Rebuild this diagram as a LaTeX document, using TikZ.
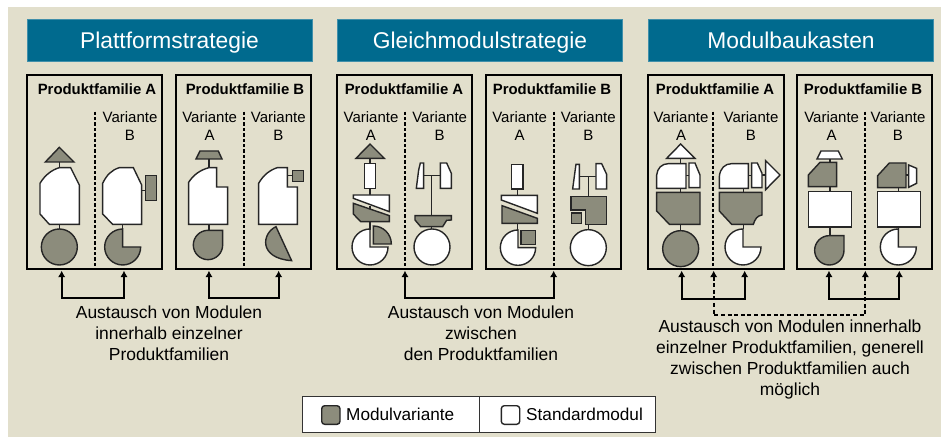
\documentclass[tikz,border=0pt]{standalone}
\usepackage{fontspec}
\setmainfont{Liberation Sans}
\usetikzlibrary{positioning}
\usetikzlibrary{arrows.meta}
\definecolor{paper}{RGB}{226,223,204}
\definecolor{teal}{RGB}{0,106,142}
\definecolor{modgray}{RGB}{140,140,124}
\tikzset{
    crop/.style = {shift = {(#1,70)}, x = 0.3333pt, y = -0.3333pt},
    head/.style = {fill = teal, draw = teal!75!white, line width = 0.5pt, text = white, minimum width = 285pt, minimum height = 42.5pt, inner sep = 0pt, text height = 16.5pt, text depth = 0pt, font = \fontsize{22.8}{26}\selectfont},
    panel/.style = {draw = black, line width = 2pt, minimum width = 135.5pt, minimum height = 194.5pt, inner sep = 0pt},
    famtitle/.style = {font = \fontsize{14.9}{17}\selectfont\bfseries},
    varlabel/.style = {font = \fontsize{15}{18}\selectfont, align = center},
    note/.style = {font = \fontsize{17.45}{21}\selectfont, align = center},
    legendbox/.style = {draw = black!80, line width = 1.4pt, fill = white, minimum height = 36pt, inner sep = 0pt},
    gm/.style = {draw = black!85, line width = 1.4pt, fill = modgray},
    wm/.style = {draw = black!85, line width = 1.4pt, fill = white},
    stub/.style = {draw = black!85, line width = 1.5pt},
    split/.style = {draw = black, line width = 2pt, dash pattern = on 3.4pt off 2pt},
    swap/.style = {draw = black, line width = 2pt, {Latex[length=6.5pt,width=7.5pt]}-{Latex[length=6.5pt,width=7.5pt]}},
    swapdash/.style = {swap, dash pattern = on 4pt off 2.6pt}
}
% circle with the upper right quarter cut away
\newcommand*{\pacman}[4]{%
    \draw[#1] (#2,#3) -- ++(0,-#4) arc (-90:-360:#4) -- cycle;
}
% circle with a square corner
\newcommand*{\pear}[4]{%
    \draw[#1] (#2,#3-#4) -- ++(#4,0) -- ++(0,#4) arc (0:270:#4) -- cycle;
}
\begin{document}
\begin{tikzpicture}[x = 1pt, y = -1pt]
    \useasboundingbox (0,0) rectangle (941,437);
    \fill[paper] (8,7) rectangle (941,437);

    \node (H1) at (169.5,40) [head] {Plattformstrategie};
    \node (H2) at (480,40) [head] {Gleichmodulstrategie};
    \node (H3) at (791,40) [head] {Modulbaukasten};

    \node (P1) at (94.7,172) [panel] {};
    \node (P2) at (243.7,172) [panel] {};
    \node (P3) at (404.7,172) [panel] {};
    \node (P4) at (553.4,172) [panel] {};
    \node (P5) at (715.9,172) [panel] {};
    \node (P6) at (864.7,172) [panel] {};

    \node at (97,89) [famtitle] {Produktfamilie A};
    \node at (245,89) [famtitle] {Produktfamilie B};
    \node at (404,89) [famtitle] {Produktfamilie A};
    \node at (552,89) [famtitle] {Produktfamilie B};
    \node at (715,89) [famtitle] {Produktfamilie A};
    \node at (863,89) [famtitle] {Produktfamilie B};

    \begin{scope}[crop = 20]
        \node at (330,168) [varlabel] {Variante\\B};
        \node at (569,168) [varlabel] {Variante\\A};
        \node at (775,168) [varlabel] {Variante\\B};
        \draw[split] (225,125) -- (225,596);
        \draw[split] (672,125) -- (672,596);

        % family A, variant A
        \draw[stub] (118,276) -- (118,293) (118,463) -- (118,480);
        \draw[gm] (76,276) -- (118,232) -- (162,276) -- cycle;
        \draw[wm] (60,340) .. controls (75,315) and (95,300) .. (118,293) -- (152,293) -- (178,345) -- (178,463) -- (88,463) -- (60,432) -- cycle;
        \draw[gm] (118,531) circle (54);

        % family A, variant B
        \draw[stub] (365,362) -- (377,362) (308,463) -- (308,478);
        \draw[wm] (248,340) .. controls (260,315) and (275,300) .. (298,293) -- (340,293) -- (365,345) -- (365,463) -- (278,463) -- (248,432) -- cycle;
        \draw[gm] (377,316) rectangle (409,391);
        \pacman{gm}{308}{531}{54}

        % family B, variant A
        \draw[stub] (567,267) -- (567,293) (567,463) -- (567,481);
        \draw[gm] (528,267) -- (540,243) -- (595,243) -- (606,267) -- cycle;
        \draw[wm] (506,337) .. controls (520,315) and (540,300) .. (567,293) -- (590,293) -- (590,351) -- (623,351) -- (623,463) -- (506,463) -- cycle;
        \pear{gm}{564}{525}{44}

        % family B, variant B
        \draw[stub] (802,317) -- (817,317);
        \draw[wm] (716,340) .. controls (730,315) and (750,300) .. (772,293) -- (802,293) -- (802,351) -- (832,351) -- (832,463) -- (716,463) -- cycle;
        \draw[gm] (817,302) rectangle (850,334);
        \draw[gm] (768,470) .. controls (725,490) and (715,565) .. (815,572) -- cycle;

        \coordinate (a1) at (125,602);
        \coordinate (a2) at (312,602);
        \coordinate (b1) at (567,602);
        \coordinate (b2) at (776,602);
        \draw[swap] (a1) -- (125,683) -- (312,683) -- (a2);
        \draw[swap] (b1) -- (567,683) -- (776,683) -- (b2);
    \end{scope}

    \begin{scope}[crop = 330]
        \node at (123,168) [varlabel] {Variante\\A};
        \node at (329,168) [varlabel] {Variante\\B};
        \node at (569,168) [varlabel] {Variante\\A};
        \node at (775,168) [varlabel] {Variante\\B};
        \draw[split] (225,125) -- (225,596);
        \draw[split] (671,125) -- (671,596);

        % family A, variant A
        \draw[stub] (120,265) -- (120,281) (120,355) -- (120,375) (120,408) -- (120,420) (120,455) -- (120,480);
        \draw[gm] (78,265) -- (120,222) -- (163,265) -- cycle;
        \draw[wm] (103,281) rectangle (137,355);
        \draw[wm] (70,375) -- (178,375) -- (178,425) -- (70,385) -- cycle;
        \draw[gm] (70,400) -- (178,437) -- (178,455) -- (92,455) -- (70,432) -- cycle;
        \pacman{wm}{120}{531}{54}
        \draw[gm] (130,522) -- (130,468) arc (-90:0:54) -- cycle;

        % family A, variant B
        \draw[stub] (281,317) -- (331,317) (305,317) -- (305,437) (305,470) -- (305,478);
        \draw[wm] (259,355) -- (266,300) -- (271,279) -- (281,279) -- (281,355) -- cycle;
        \draw[wm] (331,279) -- (350,279) -- (364,310) -- (364,355) -- (331,355) -- cycle;
        \draw[gm] (255,437) -- (364,437) -- (364,450) -- (350,451) -- (338,470) -- (272,470) -- (255,450) -- cycle;
        \draw[wm] (306,531) circle (54);

        % family B, variant A
        \draw[stub] (562,357) -- (562,376) (562,460) -- (562,481);
        \draw[wm] (545,283) rectangle (579,357);
        \draw[wm] (514,376) -- (622,376) -- (622,430) -- (514,390) -- cycle;
        \draw[gm] (516,407) -- (622,445) -- (622,460) -- (516,460) -- cycle;
        \pacman{wm}{564}{533}{53}
        \draw[gm] (573,481) rectangle (616,523);

        % family B, variant B
        \draw[stub] (748,319) -- (798,319) (775,319) -- (775,379) (775,464) -- (775,481);
        \draw[wm] (728,357) -- (735,305) -- (738,283) -- (748,283) -- (748,357) -- cycle;
        \draw[wm] (798,281) -- (815,281) -- (830,313) -- (830,357) -- (798,357) -- cycle;
        \draw[gm] (723,379) -- (830,379) -- (830,464) -- (766,464) -- (766,420) -- (723,420) -- cycle;
        \draw[gm] (725,429) rectangle (755,461);
        \draw[wm] (775,533) circle (54);

        \coordinate (c1) at (225,602);
        \coordinate (c2) at (671,602);
        \draw[swap] (c1) -- (225,683) -- (671,683) -- (c2);
    \end{scope}

    \begin{scope}[crop = 640]
        \node at (123,168) [varlabel] {Variante\\A};
        \node at (333,168) [varlabel] {Variante\\B};
        \node at (575,168) [varlabel] {Variante\\A};
        \node at (774,168) [varlabel] {Variante\\B};
        \draw[split] (218,125) -- (218,596);
        \draw[split] (675,125) -- (675,596);

        % family A, variant A
        \draw[stub] (122,265) -- (122,281) (138,317) -- (147,317) (122,355) -- (122,367) (122,463) -- (122,482);
        \draw[wm] (80,265) -- (122,222) -- (165,265) -- cycle;
        \draw[wm] (50,355) -- (50,315) .. controls (52,295) and (65,281) .. (85,281) -- (138,281) -- (138,355) -- cycle;
        \draw[wm] (147,279) -- (165,279) -- (180,315) -- (180,353) -- (147,353) -- cycle;
        \draw[gm] (50,367) -- (180,367) -- (180,463) -- (88,463) -- (50,423) -- cycle;
        \draw[gm] (122,536) circle (54);

        % family A, variant B
        \draw[stub] (325,317) -- (335,317) (366,315) -- (377,315) (310,355) -- (310,367) (310,463) -- (310,478);
        \draw[wm] (238,355) -- (238,320) .. controls (240,295) and (255,281) .. (275,281) -- (325,281) -- (325,355) -- cycle;
        \draw[wm] (335,279) -- (352,279) -- (366,310) -- (366,353) -- (335,353) -- cycle;
        \draw[wm] (377,272) -- (420,315) -- (377,359) -- cycle;
        \draw[gm] (238,367) -- (366,367) -- (366,435) .. controls (352,437) and (345,447) .. (340,463) -- (275,463) -- (238,423) -- cycle;
        \pacman{wm}{309}{531}{54}

        % family B, variant A
        \draw[stub] (570,267) -- (570,277) (570,350) -- (570,364) (570,471) -- (570,498);
        \draw[wm] (531,267) -- (543,243) -- (595,243) -- (607,267) -- cycle;
        \draw[gm] (505,315) -- (540,277) -- (590,277) -- (590,350) -- (505,350) -- cycle;
        \draw[wm] (505,364) rectangle (635,471);
        \pear{gm}{568}{541}{44}

        % family B, variant B
        \draw[stub] (798,315) -- (806,315) (775,353) -- (775,364) (775,471) -- (775,478);
        \draw[gm] (713,317) -- (748,279) -- (798,279) -- (798,353) -- (713,353) -- cycle;
        \draw[wm] (806,285) -- (830,295) -- (830,340) -- (806,352) -- cycle;
        \draw[wm] (713,364) rectangle (841,471);
        \pacman{wm}{775}{531}{54}

        \coordinate (d1) at (125,602);
        \coordinate (d2) at (314,602);
        \coordinate (e1) at (567,602);
        \coordinate (e2) at (778,602);
        \coordinate (f1) at (221,602);
        \coordinate (f2) at (676,602);
        \draw[swap] (d1) -- (125,686) -- (314,686) -- (d2);
        \draw[swap] (e1) -- (567,686) -- (778,686) -- (e2);
        \draw[swapdash] (f1) -- (221,736) -- (676,736) -- (f2);
    \end{scope}

    \node (N1) at (169,333) [note] {Austausch von Modulen\\innerhalb einzelner\\Produktfamilien};
    \node (N2) at (481,333) [note] {Austausch von Modulen\\zwischen\\den Produktfamilien};
    \node (N3) at (790,359.5) [note] {Austausch von Modulen innerhalb\\einzelner Produktfamilien, generell\\zwischen Produktfamilien auch\\möglich};

    \node (L1) at (391,414.7) [legendbox, minimum width = 176.6pt] {};
    \node (L2) at (567.5,414.7) [legendbox, minimum width = 176.4pt] {};
    \draw[gm, rounded corners = 3pt] (321.7,405.7) rectangle (340,424.3);
    \draw[wm, rounded corners = 3pt] (501.3,405.7) rectangle (519.7,424.3);
    \node (T1) at (346,414) [anchor = west, inner sep = 0pt, font = \fontsize{17.2}{20}\selectfont] {Modulvariante};
    \node (T2) at (526,414) [anchor = west, inner sep = 0pt, font = \fontsize{17.2}{20}\selectfont] {Standardmodul};
\end{tikzpicture}
\end{document}
